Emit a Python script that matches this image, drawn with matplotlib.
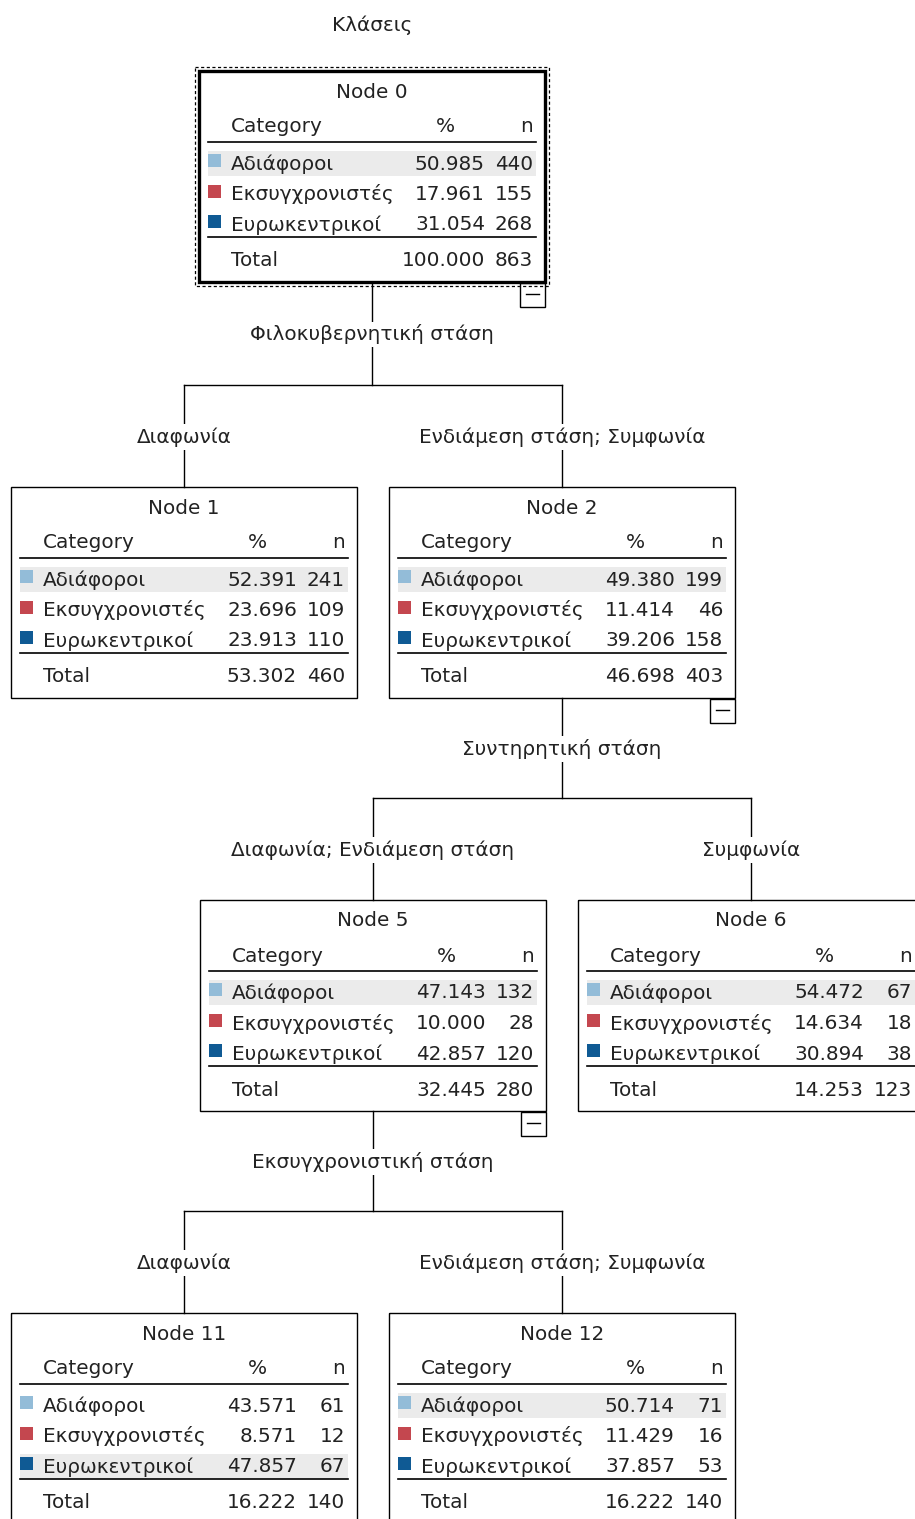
import numpy as np
import matplotlib.pyplot as plt
from matplotlib.patches import Rectangle

# Data read from the tree
title = 'Κλάσεις'
categories = ['Αδιάφοροι', 'Εκσυγχρονιστές', 'Ευρωκεντρικοί']
cat_colors = ['#93bcd8', '#c4474f', '#0f5a94']

node_ids = [0, 1, 2, 5, 6, 11, 12]
pct = [[50.985, 17.961, 31.054],
       [52.391, 23.696, 23.913],
       [49.380, 11.414, 39.206],
       [47.143, 10.000, 42.857],
       [54.472, 14.634, 30.894],
       [43.571, 8.571, 47.857],
       [50.714, 11.429, 37.857]]
counts = [[440, 155, 268],
          [241, 109, 110],
          [199, 46, 158],
          [132, 28, 120],
          [67, 18, 38],
          [61, 12, 67],
          [71, 16, 53]]
total_pct = [100.000, 53.302, 46.698, 32.445, 14.253, 16.222, 16.222]
total_n = [863, 460, 403, 280, 123, 140, 140]

# splits: parent, variable, children, branch labels
split_parent = [0, 2, 5]
split_var = ['Φιλοκυβερνητική στάση', 'Συντηρητική στάση', 'Εκσυγχρονιστική στάση']
split_children = [[1, 2], [5, 6], [11, 12]]
split_labels = [['Διαφωνία', 'Ενδιάμεση στάση; Συμφωνία'],
                ['Διαφωνία; Ενδιάμεση στάση', 'Συμφωνία'],
                ['Διαφωνία', 'Ενδιάμεση στάση; Συμφωνία']]

# layout in pixels (top-left of each node box)
pos = {0: (199, 71), 1: (11, 487), 2: (389, 487), 5: (200, 900),
       6: (578, 900), 11: (11, 1313), 12: (389, 1313)}
W, H = 346, 211
FS = 14.4
TXT = '#222222'

fig = plt.figure(figsize=(9.15, 15.19), dpi=100)
ax = fig.add_axes([0, 0, 1, 1])
ax.set_xlim(0, 915)
ax.set_ylim(1519, 0)
ax.axis('off')
plt.rcParams['font.family'] = ['DejaVu Sans']


def draw_node(nid, k):
    x0, y0 = pos[nid]
    lw = 2.4 if nid == 0 else 1.0
    ax.add_patch(Rectangle((x0, y0), W, H, fill=False, ec='black', lw=lw, zorder=3))
    if nid == 0:
        ax.add_patch(Rectangle((x0 - 4, y0 - 4), W + 8, H + 8, fill=False,
                               ec='black', lw=0.9, ls=(0, (2.5, 2)), zorder=3))
    ax.text(x0 + W / 2, y0 + 21, 'Node %d' % nid, ha='center', va='center', fontsize=FS, color=TXT)
    ax.text(x0 + 32, y0 + 56, 'Category', ha='left', va='center', fontsize=FS, color=TXT)
    ax.text(x0 + 246, y0 + 56, '%', ha='center', va='center', fontsize=FS, color=TXT)
    ax.text(x0 + 334, y0 + 56, 'n', ha='right', va='center', fontsize=FS, color=TXT)
    ax.plot([x0 + 9, x0 + 337], [y0 + 71, y0 + 71], color='black', lw=1.2, zorder=2)
    best = int(np.argmax(counts[k]))
    for i, cat in enumerate(categories):
        yc = y0 + 93 + 30.5 * i
        if i == best:
            ax.add_patch(Rectangle((x0 + 9, yc - 13), 328, 25, color='#ebebeb', lw=0, zorder=1))
        ax.add_patch(Rectangle((x0 + 9, yc - 10), 13, 13, color=cat_colors[i], lw=0, zorder=2))
        ax.text(x0 + 32, yc, cat, ha='left', va='center', fontsize=FS, color=TXT, zorder=3)
        ax.text(x0 + 286, yc, '%.3f' % pct[k][i], ha='right', va='center', fontsize=FS, color=TXT, zorder=3)
        ax.text(x0 + 334, yc, '%d' % counts[k][i], ha='right', va='center', fontsize=FS, color=TXT, zorder=3)
    ax.plot([x0 + 9, x0 + 337], [y0 + 166, y0 + 166], color='black', lw=1.2, zorder=2)
    ax.text(x0 + 32, y0 + 190, 'Total', ha='left', va='center', fontsize=FS, color=TXT)
    ax.text(x0 + 286, y0 + 190, '%.3f' % total_pct[k], ha='right', va='center', fontsize=FS, color=TXT)
    ax.text(x0 + 334, y0 + 190, '%d' % total_n[k], ha='right', va='center', fontsize=FS, color=TXT)


ax.text(372, 25, title, ha='center', va='center', fontsize=FS, color=TXT)

for k, nid in enumerate(node_ids):
    draw_node(nid, k)

lab_bg = dict(fc='white', ec='none', pad=2)
for p, var, kids, labs in zip(split_parent, split_var, split_children, split_labels):
    px0, py0 = pos[p]
    pcx = px0 + W / 2
    pbot = py0 + H
    bar_y = pos[kids[0]][1] - 102
    ax.plot([pcx, pcx], [pbot, bar_y], color='black', lw=1, zorder=0)
    ax.text(pcx, (pbot + bar_y) / 2 + 1, var, ha='center', va='center', fontsize=FS,
            color=TXT, bbox=lab_bg, zorder=2)
    # collapse marker
    ax.add_patch(Rectangle((px0 + W - 25, pbot + 1), 25, 24, fill=False, ec='black', lw=1, zorder=3))
    ax.plot([px0 + W - 19, px0 + W - 6], [pbot + 12, pbot + 12], color='black', lw=1, zorder=3)
    cxs = [pos[c][0] + W / 2 for c in kids]
    ax.plot([cxs[0], cxs[1]], [bar_y, bar_y], color='black', lw=1, zorder=0)
    for cx, c, lab in zip(cxs, kids, labs):
        ctop = pos[c][1]
        ax.plot([cx, cx], [bar_y, ctop], color='black', lw=1, zorder=0)
        ax.text(cx, bar_y + 52, lab, ha='center', va='center', fontsize=FS, color=TXT,
                bbox=lab_bg, zorder=2)

fig.savefig('out.png', dpi=100, facecolor='white')
